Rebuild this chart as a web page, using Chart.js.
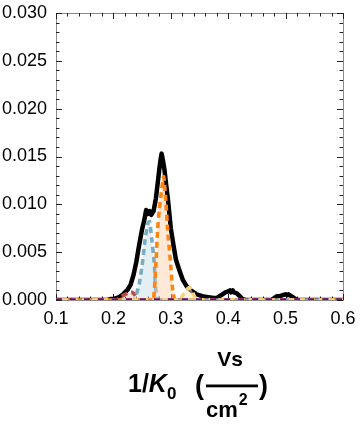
<!DOCTYPE html>
<html>
<head>
<meta charset="utf-8">
<script src="https://cdn.jsdelivr.net/npm/chart.js@4.4.1/dist/chart.umd.min.js"></script>
<style>
html,body{margin:0;padding:0;background:#fff;}
#wrap{width:360px;height:432px;position:relative;}
</style>
</head>
<body>
<div id="wrap"><canvas id="c" width="360" height="432"></canvas></div>
<script>
// ---- data ----
const xRange = [0.1, 0.6];
const yRange = [0, 0.030];
const xTickStep = 0.1;
const yTickStep = 0.005;

const totalX = [0.10,0.15,0.19,0.195,0.20,0.205,0.21,0.215,0.22,0.225,0.23,0.235,0.24,0.245,0.25,0.254,0.257,0.260,0.263,0.266,0.270,0.274,0.277,0.280,0.282,0.284,0.286,0.289,0.292,0.295,0.300,0.305,0.309,0.315,0.321,0.328,0.335,0.345,0.355,0.365,0.375,0.380,0.385,0.390,0.395,0.400,0.403,0.405,0.408,0.410,0.415,0.420,0.425,0.430,0.450,0.475,0.480,0.485,0.490,0.495,0.500,0.503,0.505,0.510,0.515,0.520,0.550,0.600];
const totalY = [0,0,0,0.0001,0.0001,0.0002,0.0003,0.0005,0.0008,0.0011,0.0016,0.0026,0.0040,0.0058,0.0074,0.0084,0.0094,0.0090,0.0093,0.0089,0.0093,0.0106,0.0121,0.0137,0.0146,0.0153,0.0147,0.0136,0.0120,0.0105,0.0075,0.0056,0.0042,0.0031,0.0021,0.0014,0.0010,0.0006,0.0004,0.0003,0.0002,0.0002,0.0004,0.0006,0.0008,0.0009,0.0010,0.0008,0.0010,0.0008,0.0007,0.0004,0.0001,0,0,0,0.0002,0.0004,0.0004,0.0005,0.0006,0.0005,0.0006,0.0004,0.0002,0,0,0];

const blueX = [0.10,0.235,0.240,0.245,0.250,0.255,0.260,0.263,0.267,0.271,0.274,0.277,0.280,0.600];
const blueY = [0,0,0.0006,0.0017,0.0036,0.0062,0.0080,0.0082,0.0063,0.0040,0.0010,0.0002,0,0];

const orangeX = [0.10,0.268,0.271,0.274,0.277,0.280,0.283,0.2875,0.2917,0.2946,0.2987,0.3033,0.306,0.310,0.600];
const orangeY = [0,0,0.0007,0.0038,0.0073,0.0095,0.0110,0.0129,0.0100,0.0073,0.0045,0.0010,0.0002,0,0];

const redX = [0.10,0.205,0.215,0.225,0.232,0.238,0.243,0.248,0.600];
const redY = [0,0,0.0004,0.0007,0.0008,0.0005,0.0001,0,0];

const yellowX = [0.10,0.315,0.322,0.328,0.332,0.336,0.341,0.346,0.600];
const yellowY = [0,0,0.0006,0.0011,0.0013,0.0011,0.0004,0,0];

const purpleX = [0.10,0.600];
const purpleY = [0,0];

const titleMain = "1/";
const titleK = "K";
const titleSub = "0";
const titleNum = "Vs";
const titleDen = "cm";
const titleSup = "2";

// ---- helpers ----
function pts(xs, ys){ return xs.map((x,i)=>({x:x, y:ys[i]})); }
const FONT = "'Liberation Sans', Arial, sans-serif";

const framePlugin = {
  id:'frame',
  beforeDatasetsDraw(chart){
    const {ctx, chartArea:a, scales:{x, y}} = chart;
    ctx.save();
    ctx.strokeStyle = '#8a8a8a';
    ctx.lineWidth = 1;
    ctx.strokeRect(Math.round(a.left)+0.5, Math.round(a.top)+0.5, Math.round(a.right-a.left), Math.round(a.bottom-a.top));
    ctx.strokeStyle = '#222';
    ctx.beginPath();
    for(let i=0;i<=25;i++){
      const v = xRange[0] + i*0.02;
      const px = Math.round(x.getPixelForValue(v))+0.5;
      const major = (i%5===0);
      const L = major ? 6 : 3.5;
      ctx.moveTo(px, a.bottom); ctx.lineTo(px, a.bottom - L);
      ctx.moveTo(px, a.top); ctx.lineTo(px, a.top + L);
    }
    for(let i=0;i<=30;i++){
      const v = i*0.001;
      const py = Math.round(y.getPixelForValue(v))+0.5;
      const major = (i%5===0);
      const L = major ? 6 : 3.5;
      ctx.moveTo(a.left, py); ctx.lineTo(a.left + L, py);
      ctx.moveTo(a.right, py); ctx.lineTo(a.right - L, py);
    }
    ctx.stroke();
    ctx.restore();
  }
};

const titlePlugin = {
  id:'xtitle',
  afterDraw(chart){
    const ctx = chart.ctx;
    ctx.save();
    ctx.fillStyle = '#000';
    ctx.textBaseline = 'alphabetic';
    ctx.textAlign = 'left';
    let xx = 128;
    const base = 392;
    ctx.font = "bold 25px " + FONT;
    ctx.fillText(titleMain, xx, base);
    xx += ctx.measureText(titleMain).width;
    ctx.font = "italic bold 25px " + FONT;
    ctx.fillText(titleK, xx, base);
    xx += ctx.measureText(titleK).width;
    ctx.font = "bold 17px " + FONT;
    ctx.fillText(titleSub, xx, base + 7);
    ctx.font = "bold 27px " + FONT;
    ctx.fillText("(", 195, base + 2);
    ctx.fillText(")", 259, base + 2);
    ctx.fillRect(206, 384.5, 52, 2.8);
    ctx.font = "bold 21px " + FONT;
    ctx.textAlign = 'center';
    ctx.fillText(titleNum, 230, 366);
    ctx.textAlign = 'left';
    ctx.font = "bold 22px " + FONT;
    ctx.fillText(titleDen, 206, 417);
    const w = ctx.measureText(titleDen).width;
    ctx.font = "bold 16px " + FONT;
    ctx.fillText(titleSup, 206 + w + 1, 405);
    ctx.restore();
  }
};

const compStyle = (xs, ys, line, fillc, dash, off) => ({
  data: pts(xs, ys),
  borderColor: line,
  backgroundColor: fillc,
  fill: 'origin',
  borderWidth: 3.6,
  borderDash: dash,
  borderDashOffset: off,
  pointRadius: 0,
  tension: 0.2,
  borderCapStyle: 'butt'
});

new Chart(document.getElementById('c'), {
  type: 'line',
  data: {
    datasets: [
      {
        data: pts(totalX, totalY),
        borderColor: '#000',
        backgroundColor: 'transparent',
        borderWidth: 4.5,
        borderJoinStyle: 'round',
        borderCapStyle: 'round',
        pointRadius: 0,
        tension: 0,
        fill: false,
        order: 10
      },
      Object.assign(compStyle(redX, redY, '#b94c48', 'rgba(232,170,160,0.35)', [6,4], 3), {order: 5}),
      Object.assign(compStyle(blueX, blueY, '#79acc4', 'rgba(196,220,230,0.45)', [6,4], 6), {order: 4}),
      Object.assign(compStyle(orangeX, orangeY, '#ff8410', 'rgba(252,206,168,0.45)', [6,4], 1), {order: 3}),
      Object.assign(compStyle(yellowX, yellowY, '#f8d27e', 'rgba(252,236,190,0.5)', [6,4], 4), {order: 2}),
      Object.assign(compStyle(purpleX, purpleY, '#6e0c70', 'rgba(0,0,0,0)', [6,8], 0), {order: 1, fill:false})
    ]
  },
  options: {
    responsive: false,
    animation: false,
    plugins: { legend: {display:false}, tooltip: {enabled:false} },
    layout: { padding: { top: 13, right: 17, left: 0, bottom: 0 } },
    scales: {
      x: {
        type: 'linear',
        min: xRange[0], max: xRange[1],
        grid: { display:false, drawTicks:false },
        border: { display:false },
        ticks: {
          stepSize: xTickStep,
          padding: 8,
          color: '#000',
          font: { family: FONT, size: 18 },
          maxRotation: 0,
          callback: v => Number(v).toFixed(1)
        },
        afterFit: s => { s.height = 132; s.paddingLeft = 0; s.paddingRight = 0; }
      },
      y: {
        min: yRange[0], max: yRange[1],
        grid: { display:false, drawTicks:false },
        border: { display:false },
        ticks: {
          stepSize: yTickStep,
          padding: 9,
          color: '#000',
          font: { family: FONT, size: 18 },
          callback: v => Number(v).toFixed(3)
        },
        afterFit: s => { s.width = 56; s.paddingTop = 0; s.paddingBottom = 0; }
      }
    }
  },
  plugins: [framePlugin, titlePlugin]
});
</script>
</body>
</html>
